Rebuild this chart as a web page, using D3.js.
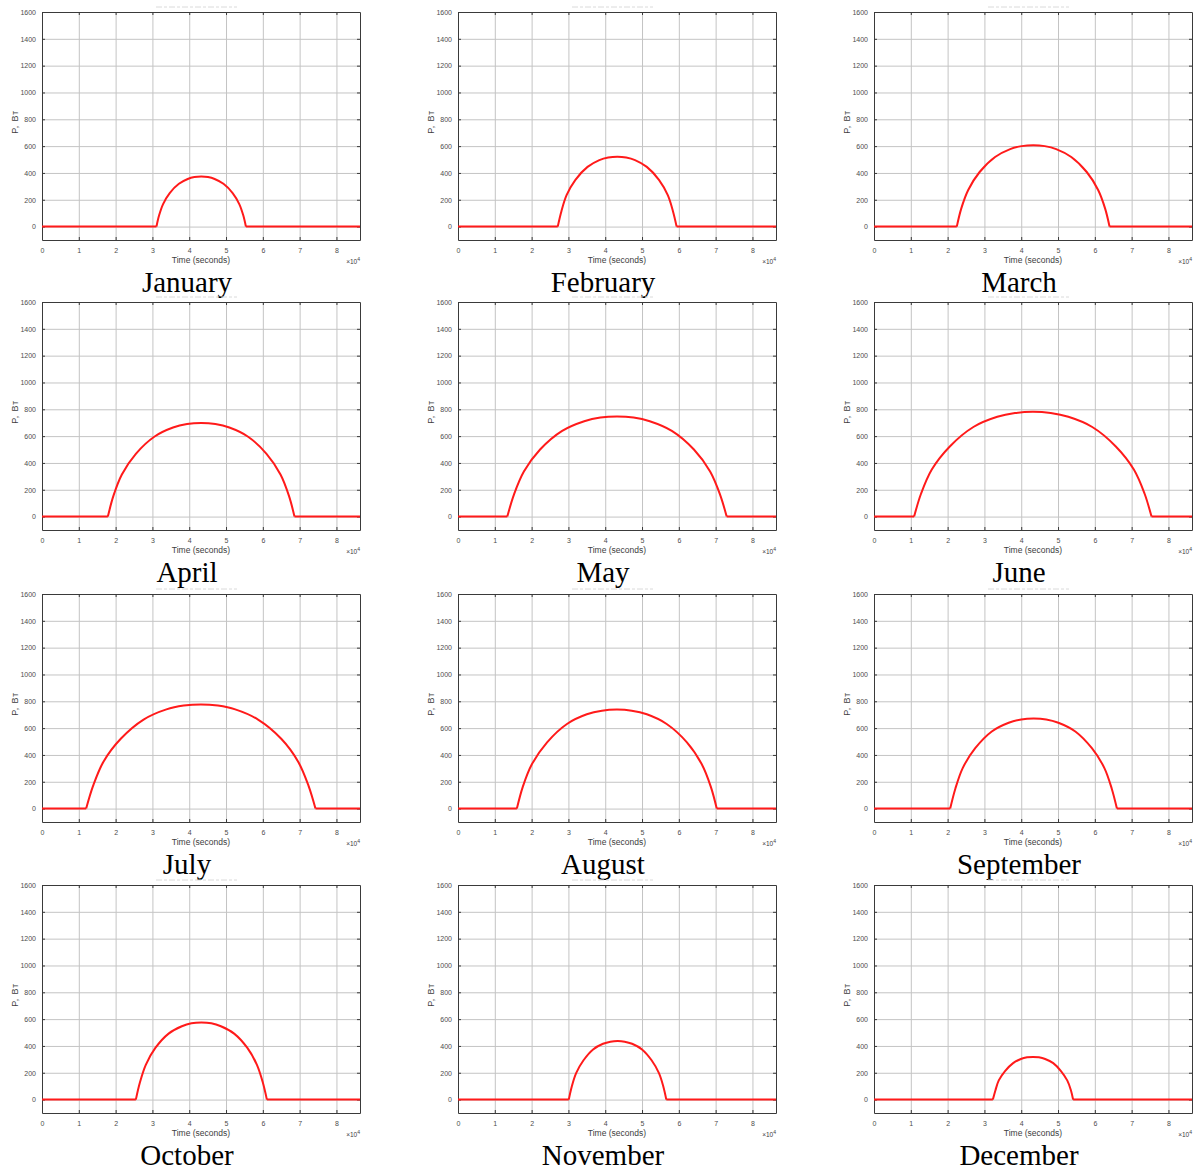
<!DOCTYPE html>
<html>
<head>
<meta charset="utf-8">
<script src="https://cdn.jsdelivr.net/npm/d3@7"></script>
<style>
  body { margin: 0; background: #fff; }
  .grid line { stroke: #c4c4c4; stroke-width: 1; }
  .grid path { display: none; }
  .axis path { stroke: #3a3a3a; }
  .axis line { stroke: #3a3a3a; }
  .axis text { fill: #4d4d4d; font-family: "Liberation Sans", Arial, sans-serif; font-size: 7px; }
  .lbl { fill: #3d3d3d; font-family: "Liberation Sans", Arial, sans-serif; font-size: 8.5px; }
  .month { fill: #000; font-family: "Liberation Serif", "Times New Roman", serif; font-size: 29px; }
</style>
</head>
<body>
<div id="chart"></div>
<script>
// time in units of 10^4 s, power in W
var months = ["January", "February", "March", "April", "May", "June",
              "July", "August", "September", "October", "November", "December"];

var jan = [[3.11,0],[3.18,82],[3.29,168],[3.47,250],[3.72,319],[3.96,355],[4.14,369],[4.33,373],
           [4.51,369],[4.69,355],[4.93,319],[5.18,250],[5.36,168],[5.47,82],[5.54,0]];
var feb = [[2.71,0],[2.81,115],[2.95,234],[3.19,349],[3.52,445],[3.84,496],[4.08,515],[4.33,521],
           [4.57,515],[4.81,496],[5.13,445],[5.46,349],[5.70,234],[5.84,115],[5.94,0]];
var mar = [[2.25,0],[2.37,134],[2.56,273],[2.87,407],[3.29,519],[3.70,578],[4.01,600],[4.33,607],
           [4.64,600],[4.95,578],[5.36,519],[5.78,407],[6.09,273],[6.28,134],[6.40,0]];
var apr = [[1.79,0],[1.94,154],[2.17,314],[2.55,468],[3.06,597],[3.56,664],[3.94,690],[4.33,698],
           [4.71,690],[5.09,664],[5.59,597],[6.10,468],[6.48,314],[6.71,154],[6.86,0]];
var may = [[1.34,0],[1.52,164],[1.79,336],[2.23,500],[2.83,639],[3.43,711],[3.87,739],[4.32,747],
           [4.77,739],[5.21,711],[5.81,639],[6.41,500],[6.85,336],[7.12,164],[7.30,0]];
var jun = [[1.09,0],[1.28,172],[1.57,351],[2.06,523],[2.70,668],[3.35,744],[3.83,772],[4.32,781],
           [4.80,772],[5.28,744],[5.93,668],[6.57,523],[7.06,351],[7.35,172],[7.54,0]];
var jul = [[1.20,0],[1.39,171],[1.67,350],[2.14,521],[2.76,664],[3.38,740],[3.85,768],[4.32,777],
           [4.78,768],[5.25,740],[5.87,664],[6.50,521],[6.96,350],[7.24,171],[7.43,0]];
var aug = [[1.60,0],[1.76,162],[2.01,332],[2.42,494],[2.96,631],[3.50,703],[3.91,730],[4.32,738],
           [4.72,730],[5.13,703],[5.67,631],[6.22,494],[6.62,332],[6.87,162],[7.03,0]];
var sep = [[2.07,0],[2.21,148],[2.41,302],[2.75,450],[3.20,575],[3.66,640],[4.00,665],[4.34,672],
           [4.68,665],[5.01,640],[5.47,575],[5.92,450],[6.26,302],[6.46,148],[6.60,0]];
var oct = [[2.55,0],[2.66,127],[2.82,259],[3.08,385],[3.44,492],[3.80,547],[4.06,569],[4.33,575],
           [4.60,569],[4.86,547],[5.22,492],[5.58,385],[5.84,259],[6.00,127],[6.11,0]];
var nov = [[3.01,0],[3.09,96],[3.21,197],[3.41,293],[3.67,374],[3.94,416],[4.14,432],[4.34,437],
           [4.53,432],[4.73,416],[5.00,374],[5.26,293],[5.46,197],[5.58,96],[5.66,0]];
var dec = [[3.23,0],[3.30,70],[3.39,143],[3.56,213],[3.78,272],[3.99,303],[4.16,315],[4.32,318],
           [4.48,315],[4.65,303],[4.87,272],[5.08,213],[5.25,143],[5.35,70],[5.41,0]];

var series = [jan, feb, mar, apr, may, jun, jul, aug, sep, oct, nov, dec];

var xTicks = [0, 1, 2, 3, 4, 5, 6, 7, 8];
var yTicks = [0, 200, 400, 600, 800, 1000, 1200, 1400, 1600];
var xMax = 8.64;

var colLeft = [42, 458, 874],
    rowTop  = [12, 302, 594, 885],
    width = 318, height = 228;

var svg = d3.select("#chart").append("svg")
    .attr("width", 1202)
    .attr("height", 1171);

var x = d3.scaleLinear().domain([0, xMax]).range([0, width]);
var y = d3.scaleLinear().domain([-100, 1600]).range([height, 0]);

var line = d3.line()
    .x(function(d) { return x(d[0]); })
    .y(function(d) { return y(d[1]); });
var arc = d3.line()
    .x(function(d) { return x(d[0]); })
    .y(function(d) { return y(d[1]); })
    .curve(d3.curveCatmullRom.alpha(0.5));

series.forEach(function(data, i) {
  var col = i % 3, row = Math.floor(i / 3);
  var g = svg.append("g")
      .attr("transform", "translate(" + colLeft[col] + "," + rowTop[row] + ")");

  // faint remains of the cut-off title
  g.append("line")
      .attr("x1", width / 2 - 45).attr("x2", width / 2 + 36)
      .attr("y1", -5).attr("y2", -5)
      .attr("stroke", "#dadada").attr("stroke-width", 1)
      .attr("stroke-dasharray", "6,2,3,2");

  // grid
  g.append("g").attr("class", "grid")
      .attr("transform", "translate(0," + height + ")")
      .call(d3.axisBottom(x).tickValues(xTicks).tickSize(-height).tickFormat(""));
  g.append("g").attr("class", "grid")
      .call(d3.axisLeft(y).tickValues(yTicks).tickSize(-width).tickFormat(""));

  // box + inward ticks
  g.append("g").attr("class", "axis")
      .attr("transform", "translate(0," + height + ")")
      .call(d3.axisBottom(x).tickValues(xTicks).tickSize(-3).tickSizeOuter(0).tickPadding(8));
  g.append("g").attr("class", "axis")
      .call(d3.axisLeft(y).tickValues(yTicks).tickSize(-3).tickSizeOuter(0).tickPadding(6)
            .tickFormat(d3.format("d")));
  g.append("g").attr("class", "axis")
      .call(d3.axisTop(x).tickValues(xTicks).tickSize(-3).tickSizeOuter(0).tickFormat(""));
  g.append("g").attr("class", "axis")
      .attr("transform", "translate(" + width + ",0)")
      .call(d3.axisRight(y).tickValues(yTicks).tickSize(-3).tickSizeOuter(0).tickFormat(""));

  // power curve: night (flat) + day arc
  var first = data[0], last = data[data.length - 1];
  g.append("path")
      .datum([[0, 0], first])
      .attr("d", line)
      .attr("fill", "none").attr("stroke", "#ff1a1a").attr("stroke-width", 2);
  g.append("path")
      .datum([last, [xMax, 0]])
      .attr("d", line)
      .attr("fill", "none").attr("stroke", "#ff1a1a").attr("stroke-width", 2);
  g.append("path")
      .datum(data)
      .attr("d", arc)
      .attr("fill", "none").attr("stroke", "#ff1a1a").attr("stroke-width", 2)
      .attr("stroke-linejoin", "round");

  // labels
  g.append("text").attr("class", "lbl")
      .attr("x", width / 2).attr("y", height + 23)
      .attr("text-anchor", "middle")
      .text("Time (seconds)");
  var ex = g.append("text").attr("class", "lbl")
      .attr("x", width).attr("y", height + 24)
      .attr("text-anchor", "end")
      .style("font-size", "6.5px");
  ex.append("tspan").text("\u00d710");
  ex.append("tspan").attr("dy", -3).style("font-size", "5px").text("4");
  g.append("text").attr("class", "lbl")
      .attr("transform", "translate(-24," + (height / 2 - 4) + ") rotate(-90)")
      .attr("text-anchor", "middle")
      .style("font-size", "9px")
      .style("letter-spacing", "0.8px")
      .text("P, Вт");

  g.append("text").attr("class", "month")
      .attr("x", 145).attr("y", 280)
      .attr("text-anchor", "middle")
      .text(months[i]);
});
</script>
</body>
</html>
